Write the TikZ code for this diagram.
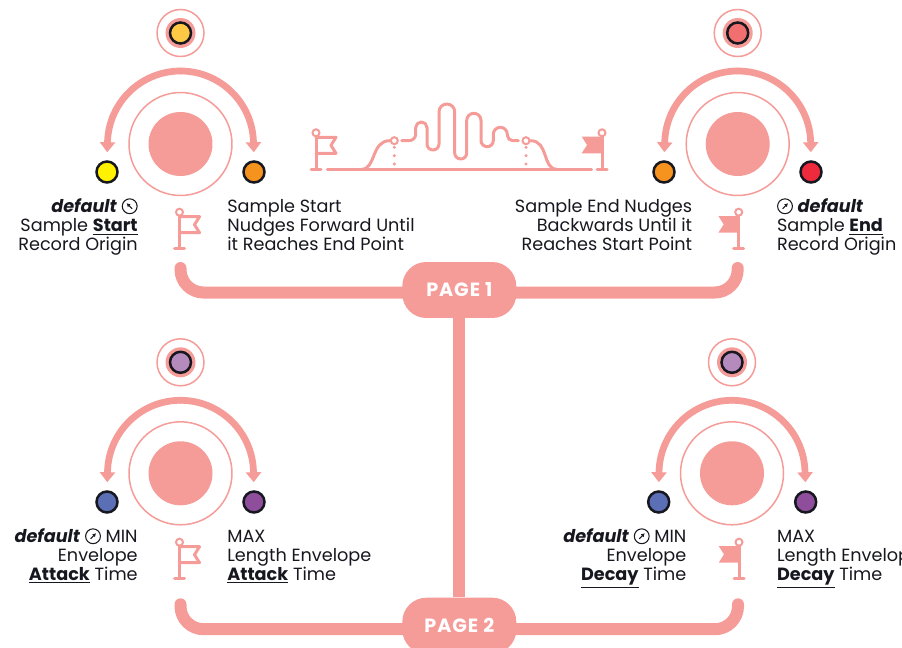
\documentclass[tikz,border=0pt]{standalone}
\usepackage{fontspec}
\setmainfont{Poppins}
\usetikzlibrary{arrows.meta}

\definecolor{salmon}{HTML}{F59C99}
\definecolor{ink}{HTML}{17171F}
\definecolor{dotyellow}{HTML}{FFF200}
\definecolor{dotamber}{HTML}{FFC845}
\definecolor{dotorange}{HTML}{F6921E}
\definecolor{dotred}{HTML}{EE2A3D}
\definecolor{dotrose}{HTML}{F26F6F}
\definecolor{dotblue}{HTML}{5A6FB5}
\definecolor{dotpurple}{HTML}{8F4E9C}
\definecolor{dotlilac}{HTML}{B58ABD}

\newcommand{\knobicon}[1]{\tikz[baseline=-0.36em,x=1em,y=1em,line width=0.06em]{\draw[ink] (0,0) circle[radius=.42]; \draw[ink,-{Latex[length=.2em,width=.24em]}] ({#1+180}:.2) -- (#1:.24);}}

\tikzset{
    ring/.style={circle, draw=salmon, line width=0.03cm, fill=white, minimum size=#1, inner sep=0},
    disc/.style={circle, fill=salmon, minimum size=#1, inner sep=0},
    dot/.style={circle, draw=ink, line width=0.05cm, minimum size=0.42cm, inner sep=0},
    sweep/.style={draw=salmon, line width=0.135cm, line cap=round, -{Triangle[width=0.3cm,length=0.2cm]}, shorten >=0.16cm},
    bus/.style={draw=salmon, line width=0.24cm},
    busarm/.style={bus, line cap=round, rounded corners=0.46cm},
    pill/.style={fill=salmon, rounded corners=0.48cm, minimum width=2.28cm, minimum height=1.12cm, text=white, font=\fontsize{10.9}{11}\selectfont\bfseries\addfontfeature{LetterSpace=5}},
    caption/.style={inner sep=0, text=ink, font=\fontsize{10.05}{10.64}\selectfont},
    glyph/.style={draw=salmon, line width=0.06cm, line cap=round, line join=round},
    flagknob/.style={circle, draw=salmon, line width=0.04cm, fill=white, minimum size=0.14cm, inner sep=0},
    flagopen/.pic={
        \draw[glyph] (-5,0) -- (5,0);
        \draw[glyph] (0,0) -- (0,33.3);
        \draw[glyph] (0,32) -- (20,32) -- (15,24) -- (20,16) -- (0,16);
        \node[flagknob] (-tip) at (0,36.5) {};
    },
    flagshut/.pic={
        \draw[glyph] (-5,0) -- (5,0);
        \draw[glyph] (0,0) -- (0,33.3);
        \fill[salmon] (0,32.7) -- (-20.3,32.7) -- (-15,24.3) -- (-20.3,16) -- (0,16) -- cycle;
        \node[flagknob] (-tip) at (0,36.5) {};
    }
}

\begin{document}
\begin{tikzpicture}[x=0.02cm,y=0.02cm]
    \path[use as bounding box, clip] (0,0) rectangle (902,647);

    % sample start
    \node[ring=0.94cm] (knobA) at (180.5,614) {};
    \node[disc=0.6cm] at (knobA) {};
    \node[dot, fill=dotamber] (stateA) at (knobA) {};
    \node[ring=2.06cm] (ringA) at (180.5,503) {};
    \node[disc=1.28cm] (hubA) at (ringA) {};
    \node[dot, fill=dotyellow] (leftA) at (107,475) {};
    \node[dot, fill=dotorange] (rightA) at (254,475) {};
    \coordinate (topA) at (180.5,576);
    \draw[sweep] (topA) arc[start angle=90, end angle=178, radius=73] -- (leftA.north);
    \draw[sweep] (topA) arc[start angle=90, end angle=2, radius=73] -- (rightA.north);
    \node[caption, anchor=base east, align=right] (noteAl) at (138,397) {\textbf{\textit{default}} \knobicon{135}\\Sample \underline{\textbf{Start}}\\Record Origin};
    \node[caption, anchor=base west, align=left] (noteAr) at (227,397) {Sample Start\\Nudges Forward Until\\it Reaches End Point};
    \pic (flagA) at (179.5,398.3) {flagopen};

    % sample end
    \node[ring=0.94cm] (knobB) at (737.7,614) {};
    \node[disc=0.6cm] at (knobB) {};
    \node[dot, fill=dotrose] (stateB) at (knobB) {};
    \node[ring=2.06cm] (ringB) at (737.7,503) {};
    \node[disc=1.28cm] (hubB) at (ringB) {};
    \node[dot, fill=dotorange] (leftB) at (664,475) {};
    \node[dot, fill=dotred] (rightB) at (811,475) {};
    \coordinate (topB) at (737.7,576);
    \draw[sweep] (topB) arc[start angle=90, end angle=178, radius=73] -- (leftB.north);
    \draw[sweep] (topB) arc[start angle=90, end angle=2, radius=73] -- (rightB.north);
    \node[caption, anchor=base east, align=right] (noteBl) at (692.5,397) {Sample End Nudges\\Backwards Until it\\Reaches Start Point};
    \node[caption, anchor=base west, align=left] (noteBr) at (776.7,397) {\knobicon{45} \textbf{\textit{default}}\\Sample \underline{\textbf{End}}\\Record Origin};
    \pic (flagB) at (738.7,398.3) {flagshut};

    % attack
    \node[ring=0.94cm] (knobC) at (180.5,284.7) {};
    \node[disc=0.6cm] at (knobC) {};
    \node[dot, fill=dotlilac] (stateC) at (knobC) {};
    \node[ring=2.06cm] (ringC) at (180.5,173.7) {};
    \node[disc=1.28cm] (hubC) at (ringC) {};
    \node[dot, fill=dotblue] (leftC) at (107,145) {};
    \node[dot, fill=dotpurple] (rightC) at (254,145) {};
    \coordinate (topC) at (180.5,246.7);
    \draw[sweep] (topC) arc[start angle=90, end angle=178, radius=73] -- (leftC.north);
    \draw[sweep] (topC) arc[start angle=90, end angle=2, radius=73] -- (rightC.north);
    \node[caption, anchor=base east, align=right] (noteCl) at (138,67) {\textbf{\textit{default}} \knobicon{45} MIN\\Envelope\\\underline{\textbf{Attack}} Time};
    \node[caption, anchor=base west, align=left] (noteCr) at (227,67) {MAX\\Length Envelope\\\underline{\textbf{Attack}} Time};
    \pic (flagC) at (179.5,68.3) {flagopen};

    % decay
    \node[ring=0.94cm] (knobD) at (732,284.7) {};
    \node[disc=0.6cm] at (knobD) {};
    \node[dot, fill=dotlilac] (stateD) at (knobD) {};
    \node[ring=2.06cm] (ringD) at (732,173.7) {};
    \node[disc=1.28cm] (hubD) at (ringD) {};
    \node[dot, fill=dotblue] (leftD) at (658.7,145) {};
    \node[dot, fill=dotpurple] (rightD) at (805.7,145) {};
    \coordinate (topD) at (732,246.7);
    \draw[sweep] (topD) arc[start angle=90, end angle=178, radius=73] -- (leftD.north);
    \draw[sweep] (topD) arc[start angle=90, end angle=2, radius=73] -- (rightD.north);
    \node[caption, anchor=base east, align=right] (noteDl) at (686.7,67) {\textbf{\textit{default}} \knobicon{45} MIN\\Envelope\\\underline{\textbf{Decay}} Time};
    \node[caption, anchor=base west, align=left] (noteDr) at (776.7,67) {MAX\\Length Envelope\\\underline{\textbf{Decay}} Time};
    \pic (flagD) at (739,68.3) {flagshut};

    % waveform
    \pic (flagE) at (316,477.7) {flagopen};
    \pic (flagF) at (602,477.7) {flagshut};
    \coordinate (floorL) at (327.3,477.7);
    \coordinate (floorR) at (591.7,477.7);
    \draw[glyph] (floorL) -- (floorR);
    \node[flagknob] (markL) at (394.3,506.3) {};
    \node[flagknob] (markR) at (526,506.3) {};
    \draw[glyph] (361.7,477.7) .. controls (376,477.7) and (371,506.3) .. (markL.west);
    \draw[glyph] (markR.east) .. controls (549,506.3) and (542,477.7) .. (557,477.7);
    \draw[glyph] (401.7,506.3) -- (409,506.3) arc[start angle=-90, end angle=0, radius=6.7]
        -- (415.7,519.4) arc[start angle=180, end angle=0, radius=5.65]
        -- (427,503) arc[start angle=180, end angle=360, radius=6]
        -- (439,535.15) arc[start angle=180, end angle=0, radius=7.85]
        -- (454.7,494) arc[start angle=180, end angle=360, radius=6]
        -- (466.7,526.55) arc[start angle=180, end angle=0, radius=7.15]
        -- (481,506.45) arc[start angle=180, end angle=360, radius=6.15]
        -- (493.3,512.7) arc[start angle=180, end angle=0, radius=7]
        -- (507.3,511.8) arc[start angle=180, end angle=270, radius=5.5]
        -- (518.3,506.3);
    \fill[salmon] (394.3,499.7) circle[radius=1.7] (394.3,491.3) circle[radius=1.7] (394.3,483) circle[radius=1.7];
    \fill[salmon] (526,499.7) circle[radius=1.7] (526,491.3) circle[radius=1.7] (526,483) circle[radius=1.7];

    % page buses
    \node[pill] (page1) at (459.3,357) {PAGE 1};
    \node[pill] (page2) at (459.3,21.3) {PAGE 2};
    \draw[bus] (page1.south) -- (page2.north);
    \coordinate (armA) at (180.5,379);
    \coordinate (armB) at (737.7,379);
    \coordinate (armC) at (180.5,42.7);
    \coordinate (armD) at (738,42.7);
    \coordinate (joinA) at (410,354.5);
    \coordinate (joinB) at (508,354.5);
    \coordinate (joinC) at (410,17.8);
    \coordinate (joinD) at (508,17.8);
    \draw[busarm] (joinA) -| (armA);
    \draw[busarm] (joinB) -| (armB);
    \draw[busarm] (joinC) -| (armC);
    \draw[busarm] (joinD) -| (armD);
\end{tikzpicture}
\end{document}
